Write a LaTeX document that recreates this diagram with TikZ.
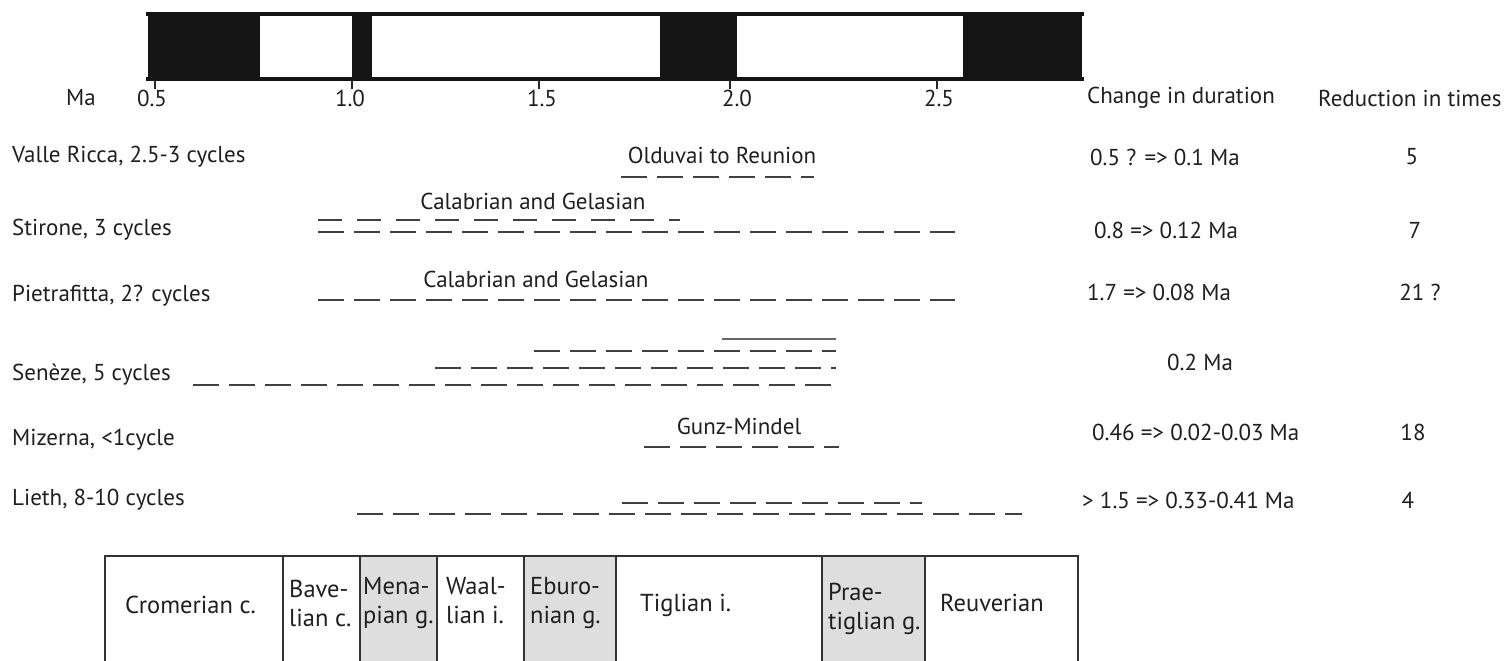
\documentclass[tikz,border=0pt]{standalone}
\usepackage{fontspec}
\setmainfont{PT Sans}
\begin{document}
\begin{tikzpicture}[x=1pt,y=-1pt,
  txt/.style={inner sep=0pt, text=black!88, font=\fontsize{23}{26}\selectfont},
  lbl/.style={txt, anchor=west},
  tick/.style={txt},
  dl/.style={draw=black!75, line width=2.4pt, dash pattern=on 26pt off 10pt},
  dlw/.style={draw=black!75, line width=2.4pt, dash pattern=on 24pt off 15pt},
  cell/.style={txt, anchor=west, align=left, font=\fontsize{24.5}{29}\selectfont},
  shade/.style={fill=black!13}]
\useasboundingbox (0,0) rectangle (1510,661);
% magnetic polarity bar
\fill[black!92] (148,13) rectangle (260,80);
\fill[black!92] (352,13) rectangle (372,80);
\fill[black!92] (660,13) rectangle (737,80);
\fill[black!92] (963,13) rectangle (1082,80);
\draw[black!92, line width=4pt] (146,14) -- (1084,14);
\draw[black!92, line width=4pt] (146,79) -- (1084,79);
\foreach \x in {155,352,539,730,937} \draw[black!85, line width=1.5pt] (\x,80) -- (\x,89);
\node[tick] (t05) at (152,98) {0.5};
\node[tick] (t10) at (350,98) {1.0};
\node[tick] (t15) at (542,98) {1.5};
\node[tick] (t20) at (737,98) {2.0};
\node[tick] (t25) at (939,98) {2.5};
\node[txt] (ma) at (81,98) {Ma};
% column headers
\node[lbl] (hdr1) at (1087,98) {Change in duration};
\node[lbl] (hdr2) at (1318,98) {Reduction in times};
% row labels
\node[lbl] (r1) at (12,157) {Valle Ricca, 2.5-3 cycles};
\node[lbl] (r2) at (12,230) {Stirone, 3 cycles};
\node[lbl] (r3) at (12,296) {Pietrafitta, 2? cycles};
\node[lbl] (r4) at (12,375) {Sen\`eze, 5 cycles};
\node[lbl] (r5) at (12,440) {Mizerna, <1cycle};
\node[lbl] (r6) at (12,500) {Lieth, 8-10 cycles};
% change in duration
\node[lbl] (c1) at (1090,157) {0.5 ? => 0.1 Ma};
\node[lbl] (c2) at (1094,230) {0.8 => 0.12 Ma};
\node[lbl] (c3) at (1087,292) {1.7 => 0.08 Ma};
\node[lbl] (c4) at (1167,362) {0.2 Ma};
\node[lbl] (c5) at (1092,432) {0.46 => 0.02-0.03 Ma};
\node[lbl] (c6) at (1082,500) {> 1.5 => 0.33-0.41 Ma};
% reduction
\node[txt] (n1) at (1412,157) {5};
\node[txt] (n2) at (1415,230) {7};
\node[txt] (n3) at (1420,292) {21 ?};
\node[txt] (n5) at (1413,432) {18};
\node[txt] (n6) at (1408,500) {4};
% interval labels
\node[txt] (l1) at (722,155) {Olduvai to Reunion};
\node[txt] (l2) at (533,201) {Calabrian and Gelasian};
\node[txt] (l3) at (536,279) {Calabrian and Gelasian};
\node[txt] (l5) at (739,426) {Gunz-Mindel};
% dashed ranges
\draw[dl] (621,177) -- (814,177);
\draw[dlw] (318,220) -- (680,220);
\draw[dl] (318,232) -- (955,232);
\draw[dl] (318,300) -- (955,300);
\draw[draw=black!60, line width=2pt] (722,339) -- (836,339);
\draw[dl] (534,351) -- (836,351);
\draw[dl] (435,368) -- (836,368);
\draw[dl] (193,385) -- (840,385);
\draw[dl] (644,447) -- (839,447);
\draw[dl] (622,503) -- (922,503);
\draw[dl] (357,514) -- (1022,514);
% stage table
\fill[shade] (360,556) rectangle (437,670);
\fill[shade] (524,556) rectangle (616,670);
\fill[shade] (822,556) rectangle (925,670);
\draw[black!80, line width=1.5pt] (105,670) -- (105,556) -- (1078,556) -- (1078,670);
\foreach \x in {283,360,437,524,616,822,925} \draw[black!80, line width=1.2pt] (\x,556) -- (\x,670);
\node[cell] (s1) at (125,605) {Cromerian c.};
\node[cell] (s2) at (289,603) {Bave-\\lian c.};
\node[cell] (s3) at (363,603) {Mena-\\pian g.};
\node[cell] (s4) at (446,601) {Waal-\\lian i.};
\node[cell] (s5) at (530,603) {Eburo-\\nian g.};
\node[cell] (s6) at (640,605) {Tiglian i.};
\node[cell] (s7) at (828,609) {Prae-\\tiglian g.};
\node[cell] (s8) at (940,603) {Reuverian};
\end{tikzpicture}
\end{document}
